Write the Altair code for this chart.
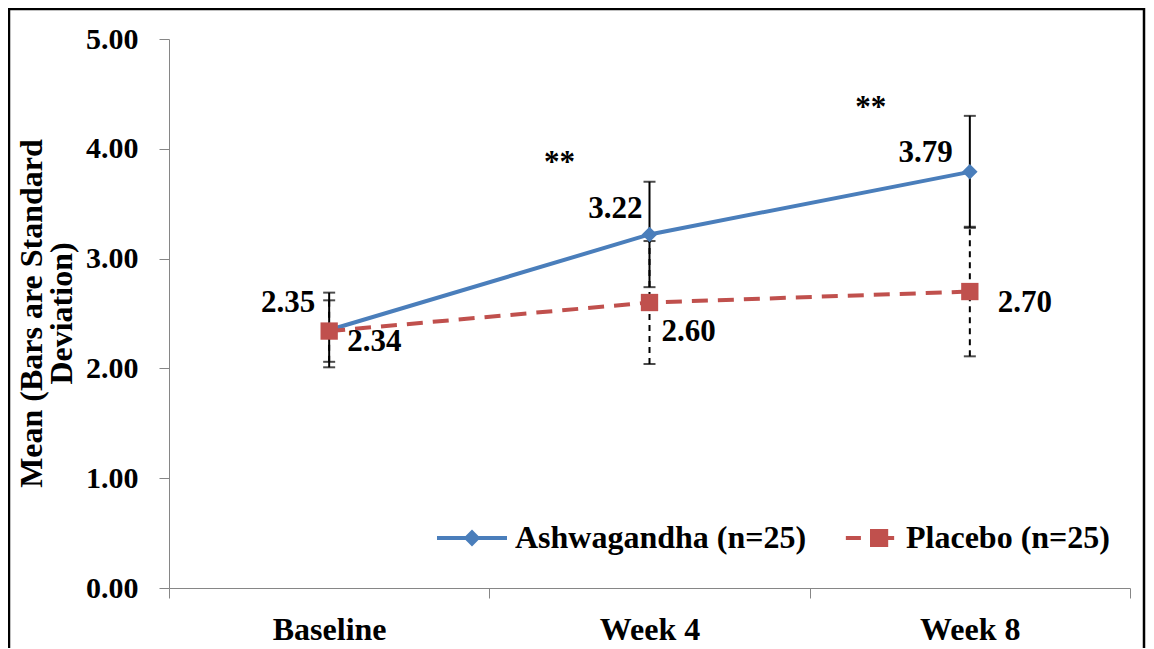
import altair as alt
import pandas as pd

# ---------------- data ----------------
timepoints = ["Baseline", "Week 4", "Week 8"]
series_names = ["Ashwagandha (n=25)", "Placebo (n=25)"]
ash_mean = [2.35, 3.22, 3.79]
ash_sd = [0.34, 0.48, 0.51]
pla_mean = [2.34, 2.60, 2.70]
pla_sd = [0.28, 0.56, 0.59]
ash_labels = ["2.35", "3.22", "3.79"]
pla_labels = ["2.34", "2.60", "2.70"]
star_timepoints = ["Week 4", "Week 8"]
star_text = ["**", "**"]
star_y = [3.87, 4.37]
y_ticks = [0, 1, 2, 3, 4, 5]

# ---------------- styles ----------------
BLUE = "#4A7EBB"
RED = "#C0504D"
FONT = "Liberation Serif"
# label offsets (px): (dx, dy, align)
ash_label_style = [(-14, -27, "right"), (-7, -25, "right"), (-17, -19, "right")]
pla_label_style = [(18, 11, "left"), (12, 29, "left"), (28, 11, "left")]
star_dx = [-90, -99]

rows = []
for i, t in enumerate(timepoints):
    rows.append(dict(time=t, series=series_names[0], mean=ash_mean[i], sd=ash_sd[i],
                     low=ash_mean[i] - ash_sd[i], high=ash_mean[i] + ash_sd[i],
                     label=ash_labels[i], idx=i))
    rows.append(dict(time=t, series=series_names[1], mean=pla_mean[i], sd=pla_sd[i],
                     low=pla_mean[i] - pla_sd[i], high=pla_mean[i] + pla_sd[i],
                     label=pla_labels[i], idx=i))
df = pd.DataFrame(rows)
df_ash = df[df.series == series_names[0]]
df_pla = df[df.series == series_names[1]]
star_df = pd.DataFrame({"time": star_timepoints, "text": star_text, "y": star_y})

x_enc = alt.X(
    "time:N", sort=timepoints, bandPosition=0.5, title=None,
    scale=alt.Scale(type="band", domain=timepoints, paddingInner=0, paddingOuter=0),
    axis=alt.Axis(tickBand="extent", labelAngle=0, tickSize=10, labelPadding=16,
                  domainColor="#868686", tickColor="#868686", labelFont=FONT,
                  labelFontSize=32, labelFontWeight="bold", labelColor="black",
                  grid=False),
)
y_scale = alt.Scale(domain=[0, 5], nice=False, zero=True)
y_enc = alt.Y(
    "mean:Q", scale=y_scale,
    axis=alt.Axis(values=y_ticks, format=".2f", tickSize=10, labelPadding=21,
                  domainColor="#868686", tickColor="#868686", labelFont=FONT,
                  labelFontSize=30, labelFontWeight="bold", labelColor="black",
                  grid=False,
                  title=["Mean (Bars are Standard", "Deviation)"],
                  titleFont=FONT, titleFontSize=32, titleFontWeight="bold",
                  titleColor="black", titleAngle=-90, titleX=-138, titleY=274,
                  titleBaseline="middle", titleAlign="center", titleLineHeight=30),
)

layers = []

# frame around the whole figure (decoration)
frame = alt.Chart(pd.DataFrame({"f": [0]})).mark_rect(
    fillOpacity=0, stroke="black", strokeWidth=2.5
).encode(x=alt.value(-160), x2=alt.value(975), y=alt.value(-30), y2=alt.value(700))
layers.append(frame)

# error bars
for d, dash in [(df_pla, [6, 5]), (df_ash, [1, 0])]:
    rule = alt.Chart(d).mark_rule(color="black", strokeWidth=2, strokeDash=dash).encode(
        x=x_enc, y=alt.Y("low:Q", scale=y_scale), y2="high:Q")
    cap_lo = alt.Chart(d).mark_tick(color="black", orient="horizontal", size=12,
                                    thickness=2).encode(x=x_enc, y=alt.Y("low:Q", scale=y_scale))
    cap_hi = alt.Chart(d).mark_tick(color="black", orient="horizontal", size=12,
                                    thickness=2).encode(x=x_enc, y=alt.Y("high:Q", scale=y_scale))
    layers += [rule, cap_lo, cap_hi]

# lines
line_ash = alt.Chart(df_ash).mark_line(color=BLUE, strokeWidth=4).encode(x=x_enc, y=y_enc)
line_pla = alt.Chart(df_pla).mark_line(color=RED, strokeWidth=4, strokeDash=[16, 10]).encode(
    x=x_enc, y=alt.Y("mean:Q", scale=y_scale))
layers += [line_ash, line_pla]

# markers
pt_ash = alt.Chart(df_ash).mark_point(filled=True, shape="diamond", size=240, color=BLUE,
                                      opacity=1).encode(x=x_enc, y=alt.Y("mean:Q", scale=y_scale))
pt_pla = alt.Chart(df_pla).mark_point(filled=True, shape="square", size=300, color=RED,
                                      opacity=1).encode(x=x_enc, y=alt.Y("mean:Q", scale=y_scale))
layers += [pt_ash, pt_pla]

# value labels
for d, styles in [(df_ash, ash_label_style), (df_pla, pla_label_style)]:
    for i, (dx, dy, al) in enumerate(styles):
        lab = alt.Chart(d).transform_filter(alt.datum.idx == i).mark_text(
            dx=dx, dy=dy, align=al, baseline="middle", font=FONT, fontSize=31,
            fontWeight="bold", color="black"
        ).encode(x=x_enc, y=alt.Y("mean:Q", scale=y_scale), text="label:N")
        layers.append(lab)

# significance stars
for i, dx in enumerate(star_dx):
    st = alt.Chart(star_df.iloc[[i]]).mark_text(
        dx=dx, align="center", baseline="middle", font=FONT, fontSize=31,
        fontWeight="bold", color="black"
    ).encode(x=x_enc, y=alt.Y("y:Q", scale=y_scale), text="text:N")
    layers.append(st)

# legend (custom line+marker symbols)
ash_path = "M-1,-0.055L1,-0.055L1,0.055L-1,0.055ZM0,-0.24L0.24,0L0,0.24L-0.24,0Z"
pla_path = ("M-0.49,-0.055L-0.06,-0.055L-0.06,0.055L-0.49,0.055Z"
            "M0.2,-0.26L0.72,-0.26L0.72,0.26L0.2,0.26Z"
            "M0.72,-0.055L0.89,-0.055L0.89,0.055L0.72,0.055Z")
leg = alt.Legend(orient="none", legendX=268, legendY=464, direction="horizontal",
                 title=None, symbolSize=4900, symbolOpacity=1, symbolStrokeWidth=0,
                 labelFont=FONT, labelFontSize=32, labelFontWeight="bold",
                 labelColor="black", labelOffset=8, columnPadding=21, padding=0,
                 labelLimit=600)
legend_layer = alt.Chart(df).mark_point(filled=True, opacity=0).encode(
    x=x_enc, y=alt.Y("mean:Q", scale=y_scale),
    color=alt.Color("series:N", scale=alt.Scale(domain=series_names, range=[BLUE, RED]),
                    legend=leg),
    shape=alt.Shape("series:N", scale=alt.Scale(domain=series_names,
                                                range=[ash_path, pla_path]), legend=leg),
)
layers.append(legend_layer)

chart = alt.layer(*layers).properties(
    width=961, height=549,
    padding={"left": 161, "top": 31, "right": 16, "bottom": 60},
    autosize=alt.AutoSizeParams(type="none"),
    background="white",
).configure_view(stroke=None)

chart.save("out.html", embed_options={"renderer": "svg", "actions": False})
